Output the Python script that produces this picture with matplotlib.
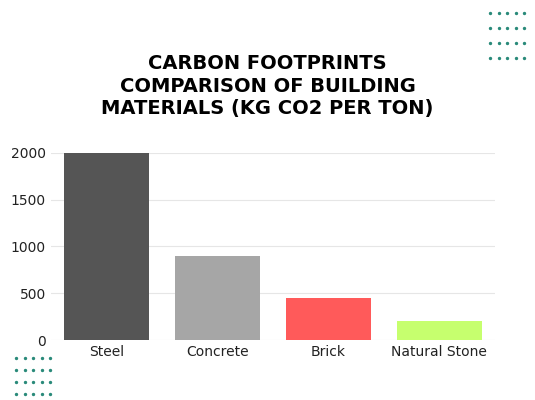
import matplotlib.pyplot as plt
import numpy as np

materials = ['Steel', 'Concrete', 'Brick', 'Natural Stone']
co2 = [2000, 900, 450, 200]
colors = ['#555555', '#a6a6a6', '#ff5a5a', '#c6ff6e']

fig = plt.figure(figsize=(5.35, 4), dpi=100)
ax = fig.add_axes([0.095, 0.15, 0.83, 0.468])
ax.bar(materials, co2, width=0.76, color=colors, zorder=2)
ax.set_ylim(0, 2000)
ax.set_yticks([0, 500, 1000, 1500, 2000])
ax.grid(axis='y', color='#e6e6e6', lw=0.8, zorder=0)
for s in ax.spines.values():
    s.set_visible(False)
ax.tick_params(length=0, labelsize=10, colors='#222222')
ax.set_xlim(-0.5, 3.5)

fig.text(0.5, 0.785, 'CARBON FOOTPRINTS\nCOMPARISON OF BUILDING\nMATERIALS (KG CO2 PER TON)',
         ha='center', va='center', fontsize=14, fontweight='heavy',
         family=['DejaVu Sans Condensed', 'DejaVu Sans'], linespacing=1.25)

# decorative dots
deco = fig.add_axes([0, 0, 1, 1], zorder=-1)
deco.set_xlim(0, 535)
deco.set_ylim(400, 0)
deco.axis('off')
xs, ys = np.meshgrid(np.linspace(490, 524, 5), np.linspace(13, 58, 4))
deco.scatter(xs, ys, s=2, color='#2a8a7a')
xs, ys = np.meshgrid(np.linspace(16, 50, 5), np.linspace(358, 394, 4))
deco.scatter(xs, ys, s=2, color='#2a8a7a')

fig.savefig('out.png', dpi=100)
